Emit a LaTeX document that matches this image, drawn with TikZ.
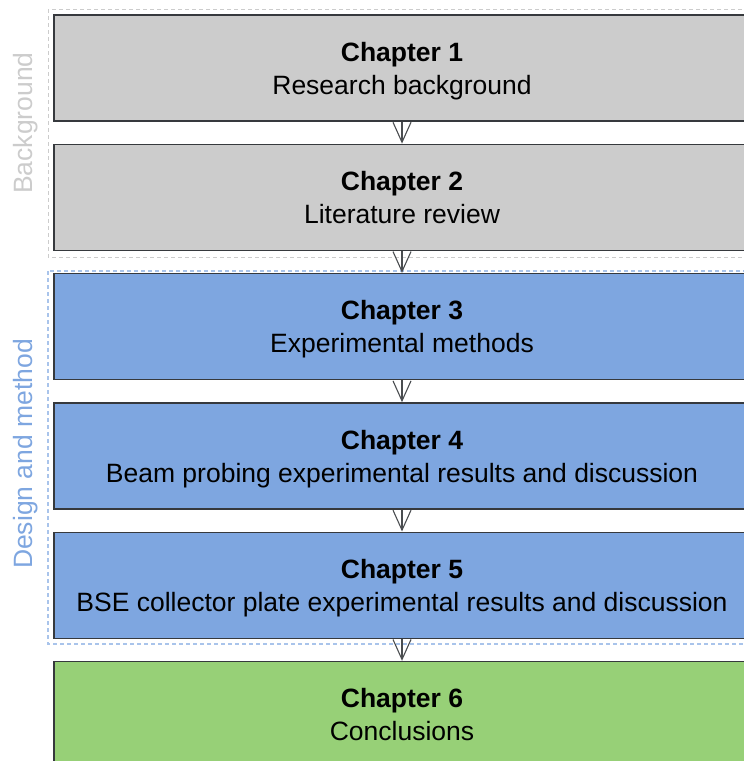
\documentclass[tikz,border=0pt]{standalone}
\usepackage{fontspec}
\setmainfont{Liberation Sans}
\usetikzlibrary{arrows.meta,positioning}

\definecolor{grayfill}{HTML}{CCCCCC}
\definecolor{bluefill}{HTML}{7EA6E0}
\definecolor{greenfill}{HTML}{97D077}
\definecolor{boxline}{HTML}{36393D}
\definecolor{grouplinegray}{HTML}{CCCCCC}
\definecolor{grouplineblue}{HTML}{A9C4EB}

\tikzset{
  chapbox/.style={draw=boxline,line width=1.4pt,minimum width=696pt,minimum height=106pt,
    inner sep=0pt,align=center,text depth=0pt,font=\fontsize{26.5}{33}\selectfont},
  flow/.style={draw=boxline!90,line width=1.1pt,-{Straight Barb[length=20pt,width=18pt]}},
  groupline/.style={dashed,dash pattern=on 4pt off 3pt,line width=1pt},
  sidelabel/.style={rotate=90,font=\fontsize{26.5}{30}\selectfont}
}

\begin{document}
\begin{tikzpicture}[x=1pt,y=-1pt]
  \useasboundingbox (0,0) rectangle (744,761);

  % 分组虚线框
  \draw[groupline,draw=grouplinegray] (48,9) rectangle (770,257);
  \draw[groupline,draw=grouplineblue,line width=1.3pt] (48,271) rectangle (770,644);

  % 章节框
  \node[chapbox,fill=grayfill] (ch1) at (402,68) {\textbf{Chapter 1}\\Research background};
  \node[chapbox,fill=grayfill,below=21.9pt of ch1] (ch2) {\textbf{Chapter 2}\\Literature review};
  \node[chapbox,fill=bluefill,below=21.9pt of ch2] (ch3) {\textbf{Chapter 3}\\Experimental methods};
  \node[chapbox,fill=bluefill,below=21.9pt of ch3] (ch4) {\textbf{Chapter 4}\\Beam probing experimental results and discussion};
  \node[chapbox,fill=bluefill,below=21.9pt of ch4] (ch5) {\textbf{Chapter 5}\\BSE collector plate experimental results and discussion};
  \node[chapbox,fill=greenfill,below=21.9pt of ch5] (ch6) {\textbf{Chapter 6}\\Conclusions};

  % 箭头
  \draw[flow] (ch1) -- (ch2);
  \draw[flow] (ch2) -- (ch3);
  \draw[flow] (ch3) -- (ch4);
  \draw[flow] (ch4) -- (ch5);
  \draw[flow] (ch5) -- (ch6);

  % 侧边标注
  \node[sidelabel,text=grouplinegray] (bglabel) at (26,123) {Background};
  \node[sidelabel,text=bluefill] (dmlabel) at (26,454) {Design and method};
\end{tikzpicture}
\end{document}
